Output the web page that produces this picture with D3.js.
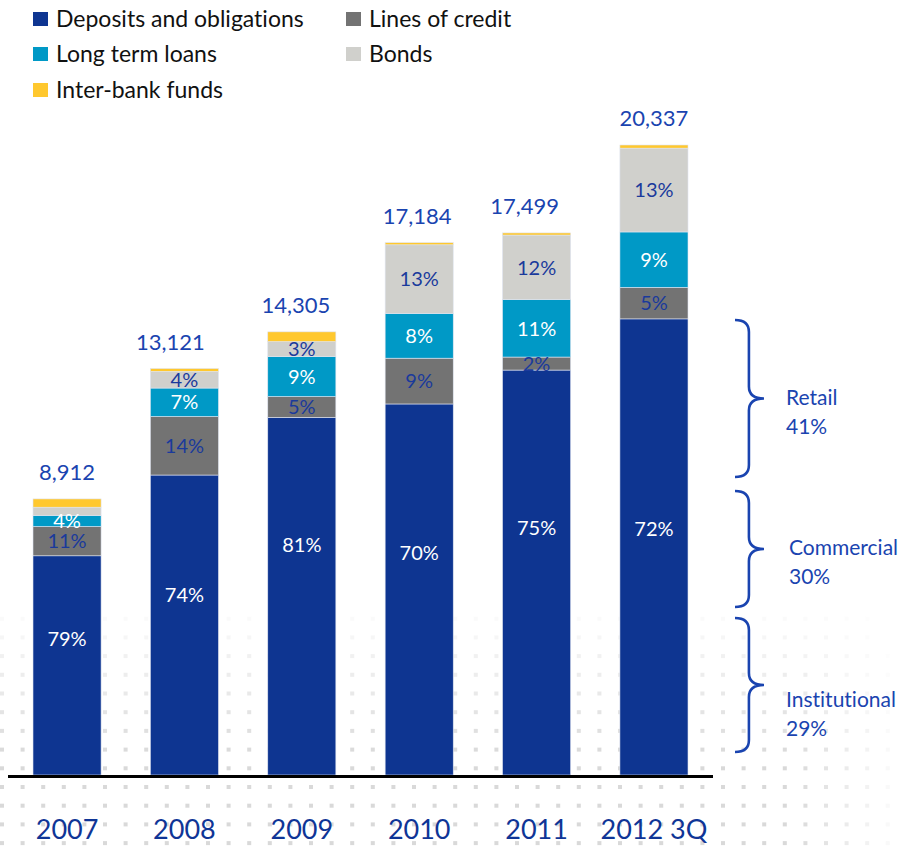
<!DOCTYPE html>
<html>
<head>
<meta charset="utf-8">
<script src="https://cdn.jsdelivr.net/npm/d3@7/dist/d3.min.js"></script>
<style>
  html, body { margin: 0; padding: 0; background: #fff; }
  svg { display: block; font-family: Lato, "Open Sans", sans-serif; font-variant-ligatures: none; font-feature-settings: "liga" 0, "clig" 0; }
</style>
</head>
<body>
<svg id="chart" width="908" height="846"></svg>
<script>
// Funding mix by year (percent of total), and totals
const years = ["2007", "2008", "2009", "2010", "2011", "2012 3Q"];
const totals = [8912, 13121, 14305, 17184, 17499, 20337];
const seriesNames = ["Deposits and obligations", "Lines of credit", "Long term loans", "Bonds", "Inter-bank funds"];
const deposits    = [79.4, 73.8, 80.7, 69.7, 74.7, 72.4];
const linesCredit = [10.6, 14.4, 4.7, 8.6, 2.4, 5.0];
const longTerm    = [4.0, 7.0, 9.0, 8.4, 10.6, 8.8];
const bonds       = [3.0, 4.1, 3.4, 12.9, 11.9, 13.3];
const interBank   = [3.0, 0.7, 2.2, 0.4, 0.4, 0.5];
const seriesColors = ["#0e3591", "#737373", "#0099c6", "#d0d0cc", "#ffc82e"];
const labelColors = ["#ffffff", "#1a3a9c", "#ffffff", "#1a3a9c", null];

// Deposit breakdown annotations for the latest period
const segments = ["Retail", "Commercial", "Institutional"];
const segmentShares = [41, 30, 29];

// layout tweaks for label placement
const depositLabelFrac = [0.38, 0.40, 0.356, 0.40, 0.39, 0.46];
const totalLabelShift = [0, -14, -6, -2, -12, 0];

const svg = d3.select("#chart");
const blue = "#1a44b0";

// ---- dotted backdrop ----
const dots = svg.append("g");
for (let gy = 600; gy <= 846; gy += 18.7) {
  for (let gx = 2; gx <= 900; gx += 20.6) {
    const fy = Math.max(0, Math.min(1, (gy - 598) / 160));
    const fx = Math.max(0, Math.min(1, (905 - gx) / 110));
    const a = fy * fx * 0.5;
    if (a <= 0.02) continue;
    dots.append("rect")
      .attr("x", gx - 2).attr("y", gy - 2)
      .attr("width", 4).attr("height", 4)
      .attr("fill", "#b4b4b4").attr("opacity", a);
  }
}

// ---- scales ----
const x = d3.scaleBand().domain(years).range([33, 688]).paddingInner(0.42).paddingOuter(0);
const y = d3.scaleLinear().domain([0, d3.max(totals)]).range([775, 145]);

// stack percent shares into absolute amounts
const rows = years.map((yr, i) => {
  const shares = [deposits[i], linesCredit[i], longTerm[i], bonds[i], interBank[i]];
  const sum = d3.sum(shares);
  const o = { year: yr, total: totals[i], idx: i };
  shares.forEach((s, k) => { o["s" + k] = totals[i] * s / sum; o["p" + k] = s; });
  return o;
});
const keys = seriesNames.map((_, k) => "s" + k);
const stacked = d3.stack().keys(keys)(rows);

const barsG = svg.append("g");
stacked.forEach((layer, k) => {
  barsG.selectAll(null).data(layer).enter().append("rect")
    .attr("x", d => x(d.data.year))
    .attr("y", d => y(d[1]))
    .attr("width", x.bandwidth())
    .attr("height", d => y(d[0]) - y(d[1]))
    .attr("fill", seriesColors[k])
    .attr("stroke", "#dfe4f0")
    .attr("stroke-width", 0.6);
});

// segment percent labels
const pct = d3.format(".0f");
stacked.forEach((layer, k) => {
  if (!labelColors[k]) return;
  layer.forEach(d => {
    const top = y(d[1]), bot = y(d[0]);
    const h = bot - top;
    if (h < 10) return;
    const cy = k === 0 ? top + h * depositLabelFrac[d.data.idx] : top + h / 2;
    barsG.append("text")
      .attr("x", x(d.data.year) + x.bandwidth() / 2)
      .attr("y", cy)
      .attr("dy", "0.36em")
      .attr("text-anchor", "middle")
      .attr("font-size", 20)
      .attr("fill", labelColors[k])
      .text(pct(d.data["p" + k]) + "%");
  });
});

// totals above bars
const fmt = d3.format(",");
svg.append("g").selectAll("text").data(rows).enter().append("text")
  .attr("x", d => x(d.year) + x.bandwidth() / 2 + totalLabelShift[d.idx])
  .attr("y", d => y(d.total) - 19)
  .attr("text-anchor", "middle")
  .attr("font-size", 22)
  .attr("fill", blue)
  .text(d => fmt(d.total));

// baseline and category axis
svg.append("line")
  .attr("x1", 8).attr("x2", 713)
  .attr("y1", y(0) + 1.5).attr("y2", y(0) + 1.5)
  .attr("stroke", "#000").attr("stroke-width", 3);

const axis = d3.axisBottom(x).tickSize(0).tickPadding(0);
const axG = svg.append("g").attr("transform", `translate(0, 839)`).call(axis);
axG.select(".domain").remove();
axG.selectAll("text")
  .attr("dy", 0)
  .attr("font-size", 27)
  .attr("font-family", "Lato, sans-serif")
  .attr("fill", "#0f3596");

// ---- legend ----
const legendPos = [[33, 12], [346, 12], [33, 47], [346, 47], [33, 83]];
const legG = svg.append("g");
seriesNames.forEach((name, k) => {
  const [lx, ly] = legendPos[k];
  legG.append("rect").attr("x", lx).attr("y", ly).attr("width", 15).attr("height", 14)
    .attr("fill", seriesColors[k]);
  legG.append("text").attr("x", lx + 23).attr("y", ly + 15)
    .attr("font-size", 23).attr("fill", "#111").text(name);
});

// ---- braces with deposit breakdown ----
const braceSpans = [[320, 477], [491, 607], [618, 752]];
function bracePath(x0, y0, y1, w) {
  const xm = x0 + w * 0.48, xt = x0 + w, ym = (y0 + y1) / 2, r = 12;
  return `M${x0},${y0} Q${xm},${y0} ${xm},${y0 + r} L${xm},${ym - r} Q${xm},${ym} ${xt},${ym}` +
         ` Q${xm},${ym} ${xm},${ym + r} L${xm},${y1 - r} Q${xm},${y1} ${x0},${y1}`;
}
const brG = svg.append("g");
segments.forEach((name, i) => {
  const [y0, y1] = braceSpans[i];
  brG.append("path").attr("d", bracePath(735, y0, y1, 29))
    .attr("fill", "none").attr("stroke", blue).attr("stroke-width", 2.6);
  const ym = (y0 + y1) / 2;
  const tx = i === 1 ? 789 : 786;
  const base = i === 2 ? ym + 22 : ym + 6;
  brG.append("text").attr("x", tx).attr("y", base)
    .attr("font-size", 21).attr("fill", blue).text(name);
  brG.append("text").attr("x", tx).attr("y", base + 29)
    .attr("font-size", 21).attr("fill", blue).text(segmentShares[i] + "%");
});
</script>
</body>
</html>
